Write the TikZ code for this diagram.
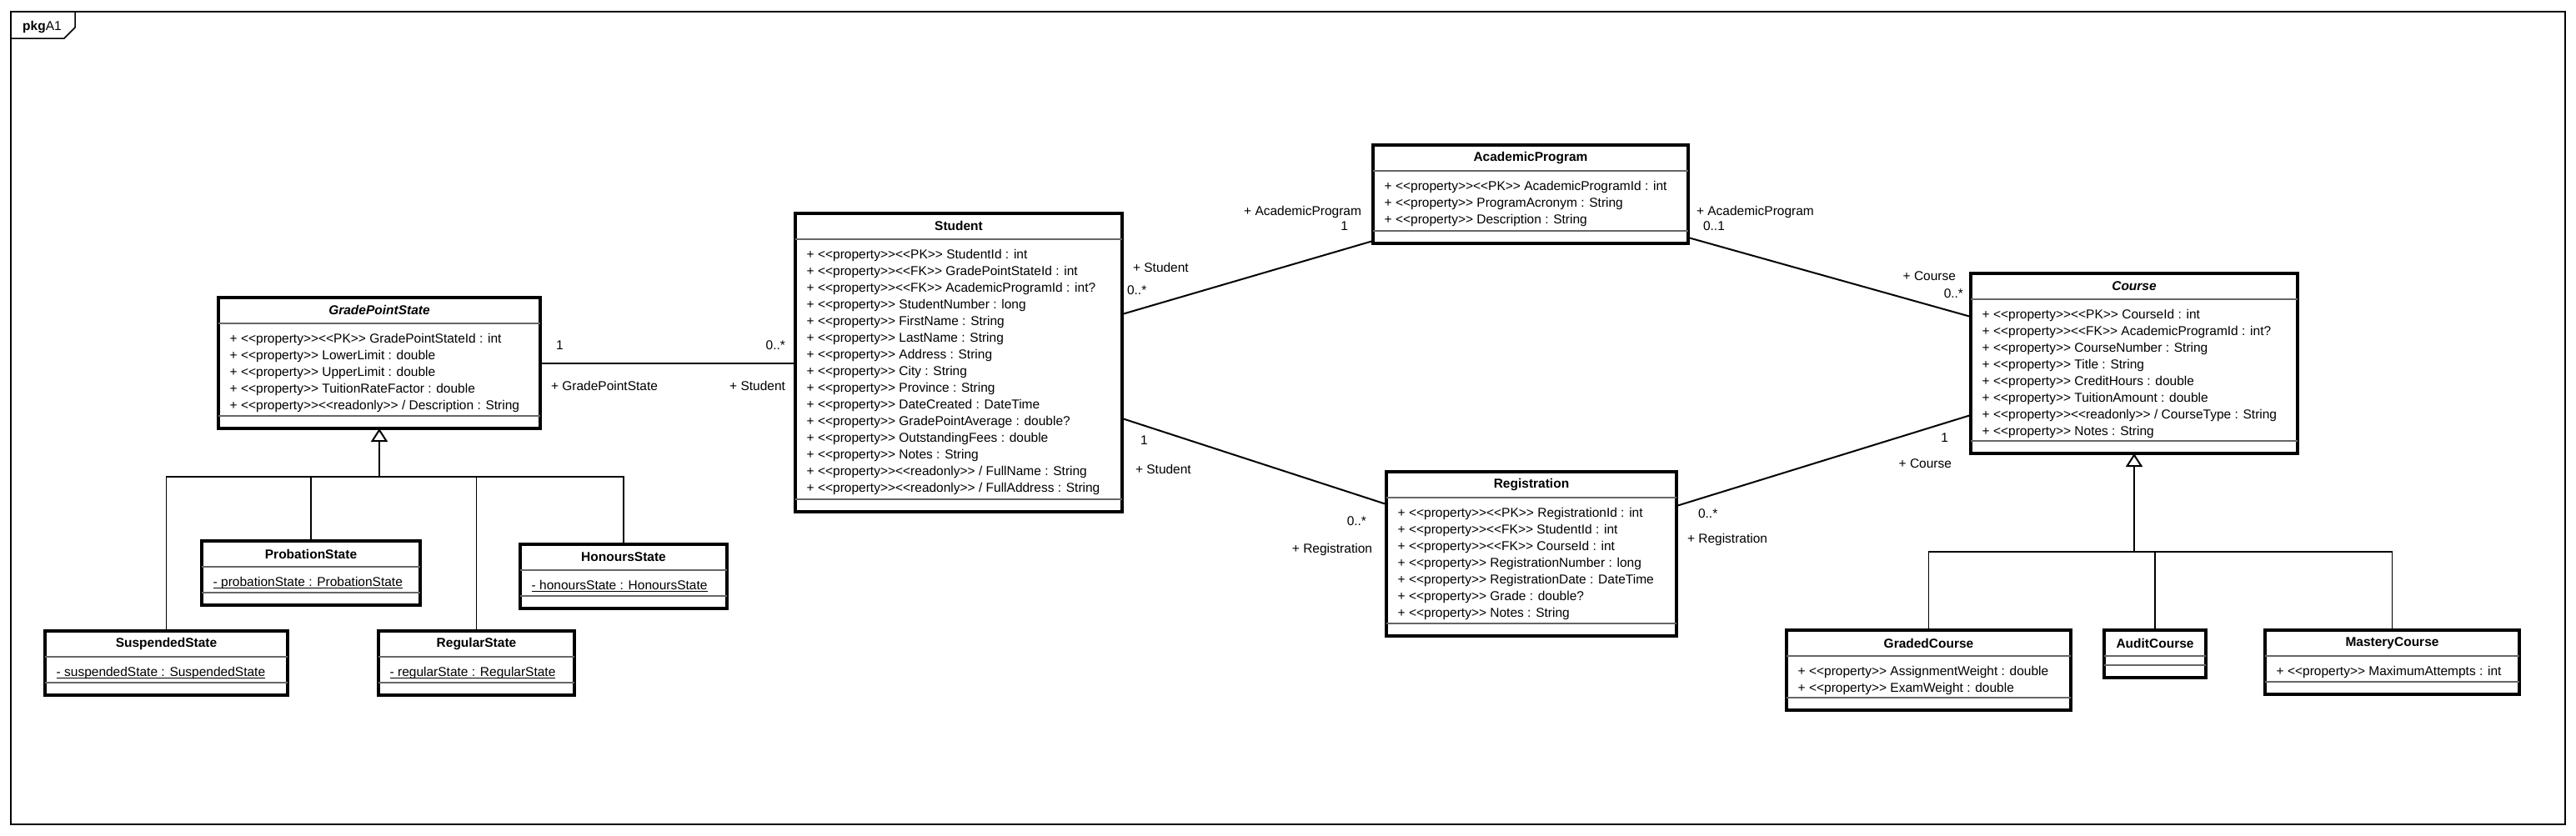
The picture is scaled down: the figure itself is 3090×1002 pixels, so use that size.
\documentclass[tikz,border=0pt]{standalone}
\usepackage{fontspec}
\usepackage{tikz}
\usetikzlibrary{positioning,calc,arrows.meta}

\newfontfamily\umlfont{Liberation Sans}
\newcommand\umlsize{\umlfont\fontsize{15.5}{20}\selectfont}
\newcommand\statattr[1]{\setbox0\hbox{#1}\rlap{\usebox0}\rule[-3pt]{\wd0}{1.2pt}}

\begin{document}
\begin{tikzpicture}[x=1pt, y=-1pt]

  \tikzstyle{cls} = [draw, line width=3.5pt, outer sep=0pt, inner sep=0pt, anchor=north west]
  \tikzstyle{clsname} = [font=\umlsize\bfseries, minimum height=30.5pt, inner sep=0pt]
  \tikzstyle{attrs} = [font=\umlsize, align=left, anchor=north west, inner sep=0pt]
  \tikzstyle{split} = [draw=black!60, line width=2pt]
  \tikzstyle{assoc} = [line width=2pt]
  \tikzstyle{role} = [font=\umlsize, inner sep=0pt, text height=11pt, text depth=0pt]
  \tikzstyle{gen} = [line width=2pt, -{Triangle[open, length=16pt, width=20pt]}]
  \tikzstyle{tree} = [line width=1.5pt]

  \useasboundingbox (0,0) rectangle (3090,1002);

  % package frame
  \draw[line width=1.5pt] (13,14) rectangle (3077,989);
  \draw[line width=1.5pt] (13,46) -- (77,46) -- (90,33) -- (90,14);
  \node[anchor=base west, inner sep=0pt, font=\umlsize] (pkg) at (27,36) {\textbf{pkg}A1};

  % classes
  \node[cls, minimum width=386pt, minimum height=157pt] (gps) at (262,357) {};
  \node[clsname, below=0pt of gps.north] (gps-name) {\textit{GradePointState}};
  \node[attrs] (gps-attr) at ($(gps.west |- gps-name.south)+(13.5,11.7)$)
    {+ <<property>><<PK>> GradePointStateId : int\\
     + <<property>> LowerLimit : double\\
     + <<property>> UpperLimit : double\\
     + <<property>> TuitionRateFactor : double\\
     + <<property>><<readonly>> / Description : String};

  \node[cls, minimum width=392pt, minimum height=358pt] (student) at (954,256) {};
  \node[clsname, below=0pt of student.north] (student-name) {Student};
  \node[attrs] (student-attr) at ($(student.west |- student-name.south)+(13.5,11.7)$)
    {+ <<property>><<PK>> StudentId : int\\
     + <<property>><<FK>> GradePointStateId : int\\
     + <<property>><<FK>> AcademicProgramId : int?\\
     + <<property>> StudentNumber : long\\
     + <<property>> FirstName : String\\
     + <<property>> LastName : String\\
     + <<property>> Address : String\\
     + <<property>> City : String\\
     + <<property>> Province : String\\
     + <<property>> DateCreated : DateTime\\
     + <<property>> GradePointAverage : double?\\
     + <<property>> OutstandingFees : double\\
     + <<property>> Notes : String\\
     + <<property>><<readonly>> / FullName : String\\
     + <<property>><<readonly>> / FullAddress : String};

  \node[cls, minimum width=378pt, minimum height=118pt] (ap) at (1647,174) {};
  \node[clsname, below=0pt of ap.north] (ap-name) {AcademicProgram};
  \node[attrs] (ap-attr) at ($(ap.west |- ap-name.south)+(13.5,11.7)$)
    {+ <<property>><<PK>> AcademicProgramId : int\\
     + <<property>> ProgramAcronym : String\\
     + <<property>> Description : String};

  \node[cls, minimum width=392pt, minimum height=216pt] (course) at (2364,328) {};
  \node[clsname, below=0pt of course.north] (course-name) {\textit{Course}};
  \node[attrs] (course-attr) at ($(course.west |- course-name.south)+(13.5,11.7)$)
    {+ <<property>><<PK>> CourseId : int\\
     + <<property>><<FK>> AcademicProgramId : int?\\
     + <<property>> CourseNumber : String\\
     + <<property>> Title : String\\
     + <<property>> CreditHours : double\\
     + <<property>> TuitionAmount : double\\
     + <<property>><<readonly>> / CourseType : String\\
     + <<property>> Notes : String};

  \node[cls, minimum width=348pt, minimum height=197pt] (reg) at (1663,566) {};
  \node[clsname, below=0pt of reg.north] (reg-name) {Registration};
  \node[attrs] (reg-attr) at ($(reg.west |- reg-name.south)+(13.5,11.7)$)
    {+ <<property>><<PK>> RegistrationId : int\\
     + <<property>><<FK>> StudentId : int\\
     + <<property>><<FK>> CourseId : int\\
     + <<property>> RegistrationNumber : long\\
     + <<property>> RegistrationDate : DateTime\\
     + <<property>> Grade : double?\\
     + <<property>> Notes : String};

  % grade point states
  \node[cls, minimum width=262pt, minimum height=77pt] (prob) at (242,649) {};
  \node[clsname, below=0pt of prob.north] (prob-name) {ProbationState};
  \node[attrs] (prob-attr) at ($(prob.west |- prob-name.south)+(13.5,11.7)$)
    {\statattr{- probationState : ProbationState}};

  \node[cls, minimum width=248pt, minimum height=77pt] (hon) at (624,653) {};
  \node[clsname, below=0pt of hon.north] (hon-name) {HonoursState};
  \node[attrs] (hon-attr) at ($(hon.west |- hon-name.south)+(13.5,11.7)$)
    {\statattr{- honoursState : HonoursState}};

  \node[cls, minimum width=291pt, minimum height=77pt] (susp) at (54,757) {};
  \node[clsname, below=0pt of susp.north] (susp-name) {SuspendedState};
  \node[attrs] (susp-attr) at ($(susp.west |- susp-name.south)+(13.5,11.7)$)
    {\statattr{- suspendedState : SuspendedState}};

  \node[cls, minimum width=235pt, minimum height=77pt] (regst) at (454,757) {};
  \node[clsname, below=0pt of regst.north] (regst-name) {RegularState};
  \node[attrs] (regst-attr) at ($(regst.west |- regst-name.south)+(13.5,11.7)$)
    {\statattr{- regularState : RegularState}};

  % course kinds
  \node[cls, minimum width=341pt, minimum height=96pt] (graded) at (2143,756) {};
  \node[clsname, below=0pt of graded.north] (graded-name) {GradedCourse};
  \node[attrs] (graded-attr) at ($(graded.west |- graded-name.south)+(13.5,11.7)$)
    {+ <<property>> AssignmentWeight : double\\
     + <<property>> ExamWeight : double};

  \node[cls, minimum width=122pt, minimum height=57pt] (audit) at (2524,756) {};
  \node[clsname, below=0pt of audit.north] (audit-name) {AuditCourse};

  \node[cls, minimum width=305pt, minimum height=77pt] (mastery) at (2717,756) {};
  \node[clsname, below=0pt of mastery.north] (mastery-name) {MasteryCourse};
  \node[attrs] (mastery-attr) at ($(mastery.west |- mastery-name.south)+(13.5,11.7)$)
    {+ <<property>> MaximumAttempts : int};

  % compartments
  \foreach \c in {gps,student,ap,course,reg,prob,hon,susp,regst,graded,audit,mastery}
    \draw[split] (\c.west |- \c-name.south) -- (\c.east |- \c-name.south)
      ([yshift=15pt]\c.south west) -- ([yshift=15pt]\c.south east);

  % associations
  \draw[assoc] (gps.east) -- (gps.east -| student.west)
    node[role, at start, anchor=west, shift={(18,-22)}] (gs-mult1) {1}
    node[role, at start, anchor=west, shift={(12,27)}] (gs-role1) {+ GradePointState}
    node[role, at end, anchor=east, shift={(-11,-22)}] (gs-mult2) {0..*}
    node[role, at end, anchor=east, shift={(-11,27)}] (gs-role2) {+ Student};

  \draw[assoc] ([yshift=58pt]student.east) -- ([yshift=3pt]ap.south west)
    node[role, at start, anchor=west, shift={(12,-56)}] (sa-role1) {+ Student}
    node[role, at start, anchor=west, shift={(5,-29)}] (sa-mult1) {0..*}
    node[role, at end, anchor=east, shift={(-13,-36)}] (sa-role2) {+ AcademicProgram}
    node[role, at end, anchor=east, shift={(-29,-18)}] (sa-mult2) {1};

  \draw[assoc] ([yshift=-67pt]student.east) -- ([yshift=-39pt]reg.north west)
    node[role, at start, anchor=west, shift={(21,26)}] (sr-mult1) {1}
    node[role, at start, anchor=west, shift={(15,61)}] (sr-role1) {+ Student}
    node[role, at end, anchor=east, shift={(-23,20)}] (sr-mult2) {0..*}
    node[role, at end, anchor=east, shift={(-16,53)}] (sr-role2) {+ Registration};

  \draw[assoc] ([yshift=7pt]ap.south east) -- ([yshift=-52pt]course.north west)
    node[role, at start, anchor=west, shift={(9,-32)}] (ac-role1) {+ AcademicProgram}
    node[role, at start, anchor=west, shift={(17,-14)}] (ac-mult1) {0..1}
    node[role, at end, anchor=east, shift={(-17,-49)}] (ac-role2) {+ Course}
    node[role, at end, anchor=east, shift={(-8,-28)}] (ac-mult2) {0..*};

  \draw[assoc] ([yshift=-41pt]reg.north east) -- ([yshift=46pt]course.south west)
    node[role, at start, anchor=west, shift={(25,9)}] (rc-mult1) {0..*}
    node[role, at start, anchor=west, shift={(12,39)}] (rc-role1) {+ Registration}
    node[role, at end, anchor=east, shift={(-26,27)}] (rc-mult2) {1}
    node[role, at end, anchor=east, shift={(-22,58)}] (rc-role2) {+ Course};

  % generalizations
  \coordinate (gps-bar) at ($(gps.south)+(0,58)$);
  \draw[gen] (gps-bar) -- (gps.south);
  \foreach \c in {susp,prob,regst,hon}
    \draw[tree] (\c.north) |- (gps-bar);

  \coordinate (course-bar) at ($(course.south)+(0,118)$);
  \draw[gen] (course-bar) -- (course.south);
  \foreach \c in {graded,audit,mastery}
    \draw[tree] (\c.north) |- (course-bar);

\end{tikzpicture}
\end{document}
